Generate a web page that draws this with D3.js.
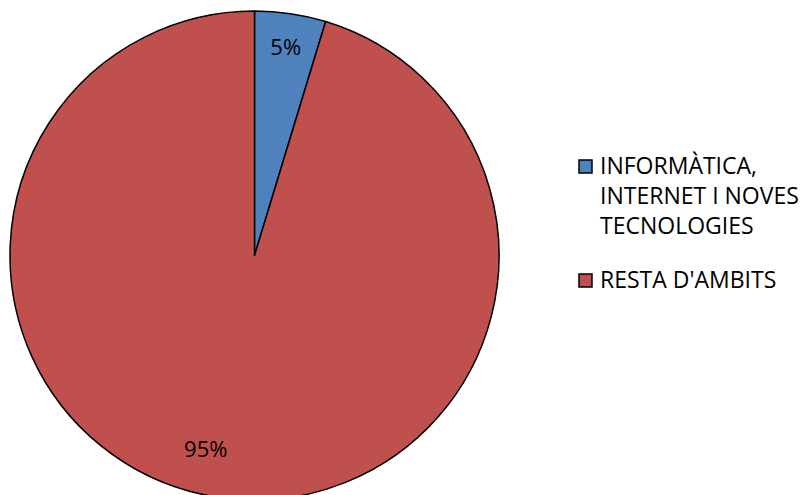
<!DOCTYPE html>
<html><head><meta charset="utf-8">
<script src="https://cdn.jsdelivr.net/npm/d3@7"></script>
<style>
html,body{margin:0;padding:0;background:#fff;}
svg{display:block;font-family:"Open Sans",sans-serif;}
</style></head>
<body>
<svg id="chart" width="805" height="495"></svg>
<script>
const categories = ["INFORMÀTICA, INTERNET I NOVES TECNOLOGIES", "RESTA D'AMBITS"];
const legendLines = [["INFORMÀTICA,", "INTERNET I NOVES", "TECNOLOGIES"], ["RESTA D'AMBITS"]];
const values = [4.7, 95.3];
const colors = ["#4F81BD", "#C0504D"];

const svg = d3.select("#chart");
const cx = 254.5, cy = 255.5, R = 244.5;
const pie = d3.pie().sort(null).value(d => d);
const arcs = pie(values);
const arc = d3.arc().innerRadius(0).outerRadius(R);

const g = svg.append("g").attr("transform", `translate(${cx},${cy})`);
g.selectAll("path").data(arcs).join("path")
  .attr("d", arc)
  .attr("fill", (d, i) => colors[i])
  .attr("stroke", "#000")
  .attr("stroke-width", 1.5)
  .attr("stroke-linejoin", "round");

const labelPos = [{shift: 0, r: 212}, {shift: 0.1, r: 199}];
const fmt = d3.format(".0%");
g.selectAll("text.lbl").data(arcs).join("text")
  .attr("class", "lbl")
  .attr("x", (d, i) => { const a = (d.startAngle + d.endAngle) / 2 + labelPos[i].shift; return labelPos[i].r * Math.sin(a); })
  .attr("y", (d, i) => { const a = (d.startAngle + d.endAngle) / 2 + labelPos[i].shift; return -labelPos[i].r * Math.cos(a); })
  .attr("text-anchor", "middle")
  .attr("dominant-baseline", "central")
  .attr("font-size", 22)
  .attr("fill", "#000")
  .text(d => fmt(Math.round(d.data) / 100));

const legendY = [160, 274];
const lg = svg.append("g");
categories.forEach((c, i) => {
  lg.append("rect")
    .attr("x", 579).attr("y", legendY[i])
    .attr("width", 13).attr("height", 13)
    .attr("fill", colors[i]).attr("stroke", "#000").attr("stroke-width", 1.5);
  legendLines[i].forEach((t, j) => {
    lg.append("text")
      .attr("x", 600).attr("y", legendY[i] + 14 + j * 30)
      .attr("font-size", 23).attr("fill", "#000")
      .text(t);
  });
});
</script>
</body></html>
